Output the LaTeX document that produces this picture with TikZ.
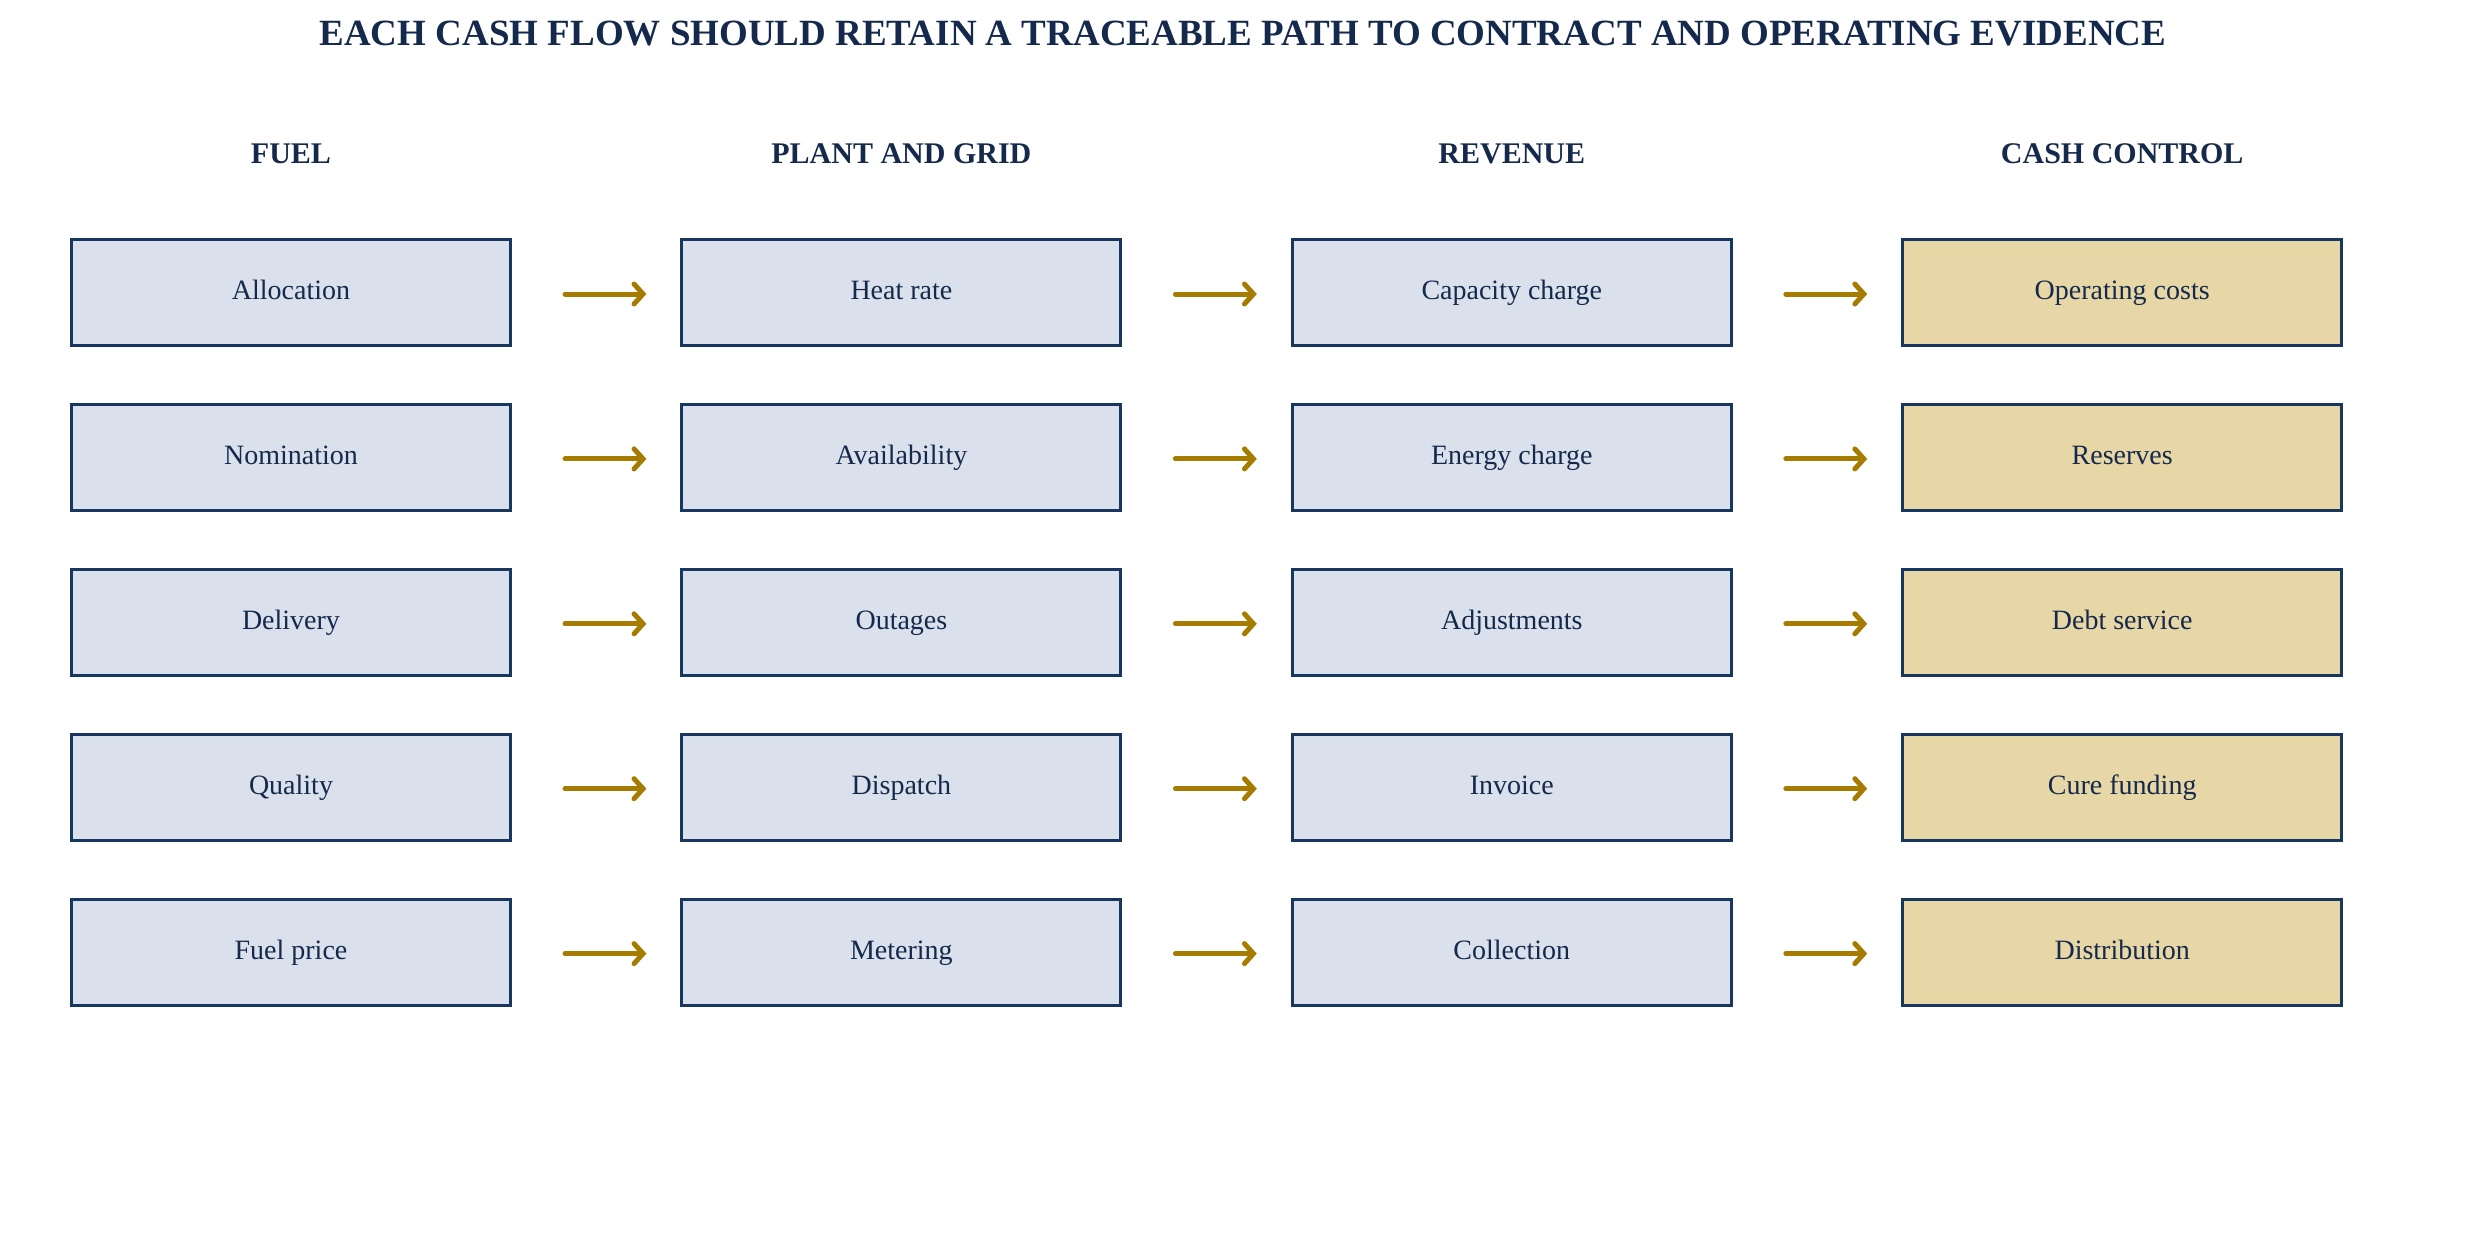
\documentclass[tikz,border=0pt]{standalone}
\usepackage{fontspec}
\setmainfont{Liberation Serif}
\usetikzlibrary{arrows.meta}
\definecolor{navy}{HTML}{17375E}
\definecolor{ink}{HTML}{14294B}
\definecolor{boxblue}{HTML}{DAE1EC}
\definecolor{boxtan}{HTML}{E7D7A6}
\definecolor{gold}{HTML}{A67C00}
\tikzset{
  cell/.style={draw=navy, line width=3pt, minimum width=439pt, minimum height=106pt, inner sep=0pt, text=ink, text height=20pt, text depth=6pt, font=\fontsize{28}{32}\selectfont},
  bluecell/.style={cell, fill=boxblue},
  tancell/.style={cell, fill=boxtan},
  colhead/.style={text=ink, font=\fontsize{30}{34}\selectfont\bfseries},
  maintitle/.style={text=ink, font=\fontsize{37}{42}\selectfont\bfseries},
  flow/.style={draw=gold, line width=5pt, line cap=round, -{Straight Barb[length=9pt,width=20pt,line cap=round]}, shorten <=53pt, shorten >=34pt}
}
\begin{document}
\begin{tikzpicture}[x=1pt,y=-1pt]
\useasboundingbox (0,0) rectangle (2486,1254);
\node[maintitle] (title) at (1243,34) {EACH CASH FLOW SHOULD RETAIN A TRACEABLE PATH TO CONTRACT AND OPERATING EVIDENCE};
\node[colhead] (h1) at (291,154) {FUEL};
\node[colhead] (h2) at (901.4,154) {PLANT AND GRID};
\node[colhead] (h3) at (1511.8,154) {REVENUE};
\node[colhead] (h4) at (2122.2,154) {CASH CONTROL};
% column 1
\node[bluecell] (a1) at (291,292.5) {Allocation};
\node[bluecell] (a2) at (291,457.4) {Nomination};
\node[bluecell] (a3) at (291,622.3) {Delivery};
\node[bluecell] (a4) at (291,787.2) {Quality};
\node[bluecell] (a5) at (291,952.1) {Fuel price};
% column 2
\node[bluecell] (b1) at (901.4,292.5) {Heat rate};
\node[bluecell] (b2) at (901.4,457.4) {Availability};
\node[bluecell] (b3) at (901.4,622.3) {Outages};
\node[bluecell] (b4) at (901.4,787.2) {Dispatch};
\node[bluecell] (b5) at (901.4,952.1) {Metering};
% column 3
\node[bluecell] (c1) at (1511.8,292.5) {Capacity charge};
\node[bluecell] (c2) at (1511.8,457.4) {Energy charge};
\node[bluecell] (c3) at (1511.8,622.3) {Adjustments};
\node[bluecell] (c4) at (1511.8,787.2) {Invoice};
\node[bluecell] (c5) at (1511.8,952.1) {Collection};
% column 4
\node[tancell] (d1) at (2122.2,292.5) {Operating costs};
\node[tancell] (d2) at (2122.2,457.4) {Reserves};
\node[tancell] (d3) at (2122.2,622.3) {Debt service};
\node[tancell] (d4) at (2122.2,787.2) {Cure funding};
\node[tancell] (d5) at (2122.2,952.1) {Distribution};
\foreach \r in {1,...,5}{
  \draw[flow] ([yshift=-1.5pt]a\r.east) -- ([yshift=-1.5pt]b\r.west);
  \draw[flow] ([yshift=-1.5pt]b\r.east) -- ([yshift=-1.5pt]c\r.west);
  \draw[flow] ([yshift=-1.5pt]c\r.east) -- ([yshift=-1.5pt]d\r.west);
}
\end{tikzpicture}
\end{document}
